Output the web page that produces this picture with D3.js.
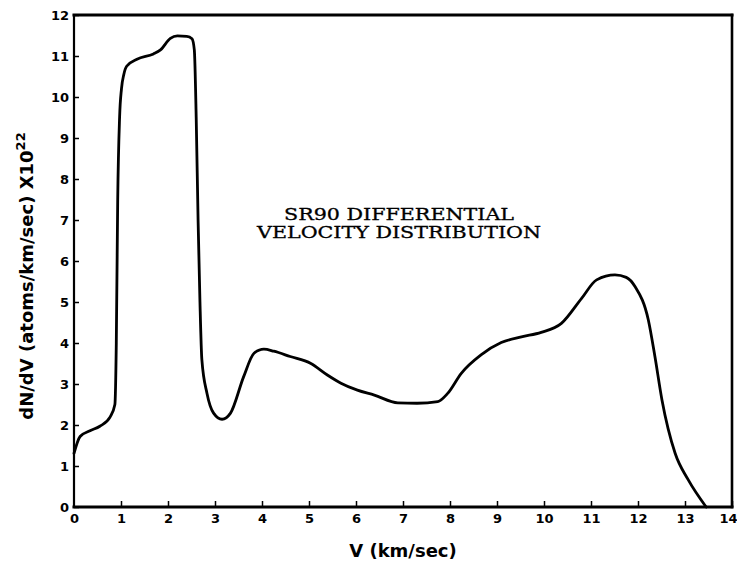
<!DOCTYPE html>
<html>
<head>
<meta charset="utf-8">
<script src="https://cdn.jsdelivr.net/npm/d3@7"></script>
<style>
  html, body { margin: 0; padding: 0; background: #fff; }
  svg { display: block; }
</style>
</head>
<body>
<svg id="chart" width="737" height="563"></svg>
<script>
// Sr-90 differential velocity distribution, dN/dV in units of 1e22 atoms/(km/s)
const velocity = [0, 0.13, 0.34, 0.55, 0.77, 0.87, 0.9, 0.93, 0.97, 1.01, 1.06, 1.12, 1.34, 1.69, 1.84,
  2.05, 2.2, 2.4, 2.51, 2.56, 2.6, 2.64, 2.68, 2.72, 2.83, 2.97, 3.15, 3.33, 3.61, 3.83, 4.04, 4.25,
  4.6, 5.04, 5.39, 5.68, 6.03, 6.39, 6.89, 7.3, 7.74, 7.95, 8.24, 8.66, 9.09, 9.52, 9.94, 10.37,
  10.8, 11.12, 11.51, 11.75, 11.94, 12.22, 12.36, 12.51, 12.79, 13.07, 13.45];
const dNdV = [1.31, 1.72, 1.86, 1.97, 2.2, 2.5, 4.0, 7.5, 9.5, 10.2, 10.55, 10.75, 10.92, 11.05, 11.15,
  11.43, 11.49, 11.48, 11.42, 11.15, 9.5, 7.0, 5.0, 3.6, 2.77, 2.29, 2.14, 2.29, 3.18, 3.75, 3.85, 3.8,
  3.67, 3.5, 3.22, 3.02, 2.85, 2.73, 2.54, 2.53, 2.57, 2.77, 3.26, 3.71, 4.01, 4.15, 4.26, 4.48,
  5.09, 5.54, 5.66, 5.6, 5.37, 4.56, 3.67, 2.61, 1.31, 0.66, 0.0];

const xTicks = d3.range(0, 15);   // 0 … 14 km/sec
const yTicks = d3.range(0, 13);   // 0 … 12
const titleLines = ["SR90 DIFFERENTIAL", "VELOCITY DISTRIBUTION"];

const svg = d3.select("#chart");
const plot = { left: 74, right: 732, top: 15, bottom: 507 };

const x = d3.scaleLinear().domain([0, 14]).range([plot.left, plot.right]);
const y = d3.scaleLinear().domain([0, 12]).range([plot.bottom, plot.top]);

const sansBold = "'DejaVu Sans', sans-serif";

// bottom axis, ticks pointing inward
const gx = svg.append("g")
  .attr("transform", `translate(0,${plot.bottom})`)
  .call(d3.axisBottom(x).tickValues(xTicks).tickSize(-6).tickPadding(7).tickSizeOuter(0));
// left axis, ticks pointing inward
const gy = svg.append("g")
  .attr("transform", `translate(${plot.left},0)`)
  .call(d3.axisLeft(y).tickValues(yTicks).tickSize(-5).tickPadding(5).tickSizeOuter(0));

[gx, gy].forEach(g => {
  g.select(".domain").remove();
  g.selectAll(".tick line").attr("stroke", "#000").attr("stroke-width", 1.5);
  g.selectAll(".tick text")
    .attr("fill", "#000")
    .style("font-family", sansBold)
    .style("font-weight", "bold")
    .style("font-size", "13px");
});
// the corner "0" sits level with the baseline; last x label kept inside the page
gx.selectAll(".tick").filter(d => d === 0).select("line").remove();
gx.selectAll(".tick").filter(d => d === 14).select("text")
  .attr("text-anchor", "end").attr("x", 5);

// frame
const frame = svg.append("g").attr("stroke", "#000").attr("stroke-linecap", "square");
frame.append("line").attr("x1", plot.left).attr("x2", plot.right)
  .attr("y1", plot.bottom).attr("y2", plot.bottom).attr("stroke-width", 3);
frame.append("line").attr("x1", plot.left).attr("x2", plot.right)
  .attr("y1", plot.top).attr("y2", plot.top).attr("stroke-width", 3);
frame.append("line").attr("x1", plot.left).attr("x2", plot.left)
  .attr("y1", plot.top).attr("y2", plot.bottom).attr("stroke-width", 2.2);
frame.append("line").attr("x1", plot.right).attr("x2", plot.right)
  .attr("y1", plot.top).attr("y2", plot.bottom).attr("stroke-width", 2.6);

// distribution curve
const pts = velocity.map((v, i) => [v, dNdV[i]]);
const line = d3.line()
  .x(d => x(d[0])).y(d => y(d[1]))
  .curve(d3.curveMonotoneX);
svg.append("path")
  .datum(pts)
  .attr("d", line)
  .attr("fill", "none")
  .attr("stroke", "#000")
  .attr("stroke-width", 2.8)
  .attr("stroke-linejoin", "round")
  .attr("stroke-linecap", "round");

// axis titles
svg.append("text")
  .attr("x", (plot.left + plot.right) / 2).attr("y", 557)
  .attr("text-anchor", "middle").attr("fill", "#000")
  .style("font-family", sansBold).style("font-weight", "bold").style("font-size", "18px")
  .text("V (km/sec)");

const yTitle = svg.append("text")
  .attr("transform", "translate(33,276) rotate(-90)")
  .attr("text-anchor", "middle").attr("fill", "#000")
  .style("font-family", sansBold).style("font-weight", "bold").style("font-size", "18px");
yTitle.append("tspan").text("dN/dV (atoms/km/sec) X10");
yTitle.append("tspan").attr("dy", "-0.6em").style("font-size", "13px").text("22");

// annotation
const titleLens = [230, 284];
svg.append("g").selectAll("text")
  .data(titleLines)
  .join("text")
  .attr("x", 399)
  .attr("y", (d, i) => 220 + i * 18)
  .attr("text-anchor", "middle")
  .attr("fill", "#000")
  .attr("stroke", "#000")
  .attr("stroke-width", 0.3)
  .attr("textLength", (d, i) => titleLens[i])
  .attr("lengthAdjust", "spacingAndGlyphs")
  .style("font-family", "'DejaVu Serif', serif")
  .style("font-size", "16px")
  .text(d => d);
</script>
</body>
</html>
